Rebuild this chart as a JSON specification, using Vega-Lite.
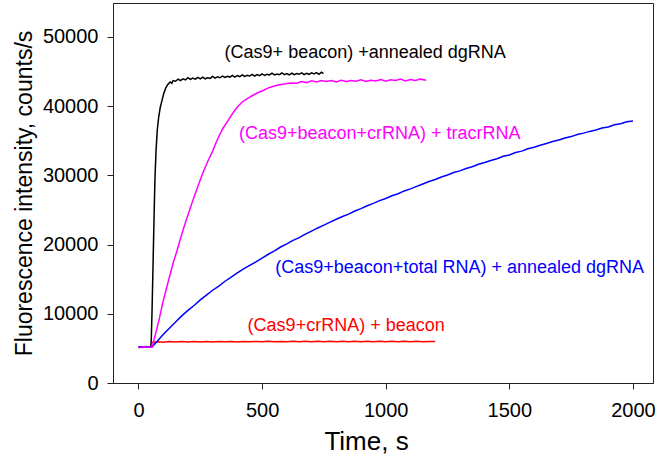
{
  "$schema": "https://vega.github.io/schema/vega-lite/v6.json",
  "width": 540,
  "height": 380,
  "autosize": {"type": "none"},
  "padding": {"left": 113, "top": 3, "right": 8, "bottom": 82},
  "background": "white",
  "config": {
    "view": {"stroke": "#222", "strokeWidth": 1},
    "font": "Liberation Sans",
    "axis": {
      "grid": false,
      "domainColor": "#222",
      "tickColor": "#222",
      "labelColor": "#000",
      "titleColor": "#000",
      "labelFont": "Liberation Sans",
      "titleFont": "Liberation Sans",
      "labelFontSize": 20,
      "titleFontSize": 23,
      "titleFontWeight": "normal",
      "tickSize": 6,
      "format": "d"
    }
  },
  "datasets": {
    "black": [
      {"t":0,"v":5150},{"t":10,"v":5250},{"t":20,"v":5180},{"t":30,"v":5260},{"t":40,"v":5200},{"t":50,"v":5220},
      {"t":52,"v":6500},{"t":55,"v":10500},{"t":58,"v":15500},{"t":61,"v":20500},{"t":64,"v":25500},{"t":67,"v":29800},
      {"t":71,"v":33500},{"t":76,"v":36500},{"t":82,"v":38500},{"t":88,"v":39800},{"t":95,"v":40800},{"t":102,"v":41800},
      {"t":110,"v":42600},{"t":118,"v":43100},{"t":128,"v":43500},{"t":135,"v":43300},{"t":140,"v":43700},{"t":150,"v":43600},
      {"t":160,"v":43900},{"t":170,"v":43700},{"t":180,"v":43950},{"t":190,"v":43800},{"t":200,"v":44100},{"t":210,"v":43850},
      {"t":220,"v":44050},{"t":230,"v":43900},{"t":240,"v":44150},{"t":250,"v":43950},{"t":260,"v":44200},{"t":270,"v":43950},
      {"t":280,"v":44100},{"t":290,"v":44000},{"t":300,"v":44300},{"t":310,"v":44050},{"t":320,"v":44250},{"t":330,"v":44100},
      {"t":340,"v":44350},{"t":350,"v":44150},{"t":360,"v":44300},{"t":370,"v":44200},{"t":380,"v":44450},{"t":390,"v":44200},
      {"t":400,"v":44400},{"t":410,"v":44250},{"t":420,"v":44500},{"t":430,"v":44300},{"t":440,"v":44450},{"t":450,"v":44350},
      {"t":460,"v":44600},{"t":470,"v":44350},{"t":480,"v":44550},{"t":490,"v":44400},{"t":500,"v":44650},{"t":510,"v":44450},
      {"t":520,"v":44600},{"t":530,"v":44500},{"t":540,"v":44750},{"t":550,"v":44500},{"t":560,"v":44650},{"t":570,"v":44550},
      {"t":580,"v":44800},{"t":590,"v":44550},{"t":600,"v":44700},{"t":610,"v":44500},{"t":620,"v":44750},{"t":630,"v":44550},
      {"t":640,"v":44700},{"t":650,"v":44600},{"t":660,"v":44800},{"t":670,"v":44550},{"t":680,"v":44750},{"t":690,"v":44600},
      {"t":700,"v":44800},{"t":710,"v":44650},{"t":720,"v":44850},{"t":730,"v":44600},{"t":740,"v":44900},{"t":748,"v":44700}
    ],
    "magenta": [
      {"t":0,"v":5100},{"t":20,"v":5250},{"t":40,"v":5150},{"t":55,"v":5200},{"t":70,"v":7200},{"t":85,"v":9400},
      {"t":101,"v":12000},{"t":120,"v":14600},{"t":140,"v":17300},{"t":155,"v":19000},{"t":170,"v":20900},{"t":190,"v":23200},
      {"t":209,"v":25200},{"t":222,"v":26600},{"t":240,"v":28400},{"t":260,"v":30300},{"t":280,"v":32000},{"t":300,"v":33500},
      {"t":317,"v":35000},{"t":340,"v":36700},{"t":360,"v":37800},{"t":380,"v":38900},{"t":398,"v":39800},{"t":420,"v":40600},
      {"t":440,"v":41100},{"t":460,"v":41500},{"t":480,"v":41900},{"t":506,"v":42300},{"t":530,"v":42700},{"t":550,"v":42900},
      {"t":570,"v":43100},{"t":590,"v":43200},{"t":614,"v":43350},{"t":640,"v":43300},{"t":660,"v":43550},{"t":680,"v":43400},
      {"t":700,"v":43650},{"t":720,"v":43500},{"t":740,"v":43700},{"t":760,"v":43550},{"t":780,"v":43700},{"t":800,"v":43500},
      {"t":820,"v":43750},{"t":840,"v":43550},{"t":860,"v":43700},{"t":880,"v":43600},{"t":900,"v":43800},{"t":920,"v":43550},
      {"t":940,"v":43750},{"t":960,"v":43650},{"t":980,"v":43850},{"t":1000,"v":43600},{"t":1020,"v":43800},{"t":1040,"v":43700},
      {"t":1060,"v":43900},{"t":1080,"v":43650},{"t":1100,"v":43850},{"t":1120,"v":43700},{"t":1140,"v":43900},{"t":1164,"v":43750}
    ],
    "blue": [
      {"t":0,"v":5250},{"t":20,"v":5150},{"t":40,"v":5250},{"t":55,"v":5200},{"t":75,"v":6000},{"t":100,"v":7000},
      {"t":125,"v":7900},{"t":150,"v":8800},{"t":175,"v":9700},{"t":200,"v":10500},{"t":225,"v":11200},{"t":250,"v":12000},
      {"t":275,"v":12700},{"t":300,"v":13400},{"t":325,"v":14000},{"t":350,"v":14700},{"t":375,"v":15300},{"t":400,"v":15900},
      {"t":425,"v":16500},{"t":450,"v":17000},{"t":475,"v":17500},{"t":500,"v":18050},{"t":525,"v":18600},{"t":550,"v":19100},
      {"t":575,"v":19650},{"t":600,"v":20100},{"t":625,"v":20600},{"t":650,"v":21000},{"t":675,"v":21500},{"t":700,"v":21950},
      {"t":725,"v":22400},{"t":750,"v":22800},{"t":775,"v":23250},{"t":800,"v":23650},{"t":825,"v":24050},{"t":850,"v":24400},
      {"t":875,"v":24850},{"t":900,"v":25200},{"t":925,"v":25600},{"t":950,"v":25950},{"t":975,"v":26350},{"t":1000,"v":26650},
      {"t":1025,"v":27050},{"t":1050,"v":27350},{"t":1075,"v":27750},{"t":1100,"v":28050},{"t":1125,"v":28400},{"t":1150,"v":28750},
      {"t":1175,"v":29100},{"t":1200,"v":29400},{"t":1225,"v":29750},{"t":1250,"v":30050},{"t":1275,"v":30400},{"t":1300,"v":30650},
      {"t":1325,"v":31000},{"t":1350,"v":31250},{"t":1375,"v":31600},{"t":1400,"v":31850},{"t":1425,"v":32150},{"t":1450,"v":32400},
      {"t":1475,"v":32750},{"t":1500,"v":32950},{"t":1525,"v":33300},{"t":1550,"v":33500},{"t":1575,"v":33850},{"t":1600,"v":34050},
      {"t":1625,"v":34350},{"t":1650,"v":34600},{"t":1675,"v":34900},{"t":1700,"v":35100},{"t":1725,"v":35400},{"t":1750,"v":35600},
      {"t":1775,"v":35900},{"t":1800,"v":36100},{"t":1825,"v":36350},{"t":1850,"v":36550},{"t":1875,"v":36850},{"t":1900,"v":37000},
      {"t":1925,"v":37300},{"t":1950,"v":37450},{"t":1975,"v":37750},{"t":2000,"v":37850}
    ],
    "red": [
      {"t":55,"v":5850},{"t":80,"v":5950},{"t":100,"v":5900},{"t":125,"v":5980},{"t":150,"v":5920},{"t":175,"v":5990},
      {"t":200,"v":5930},{"t":225,"v":6000},{"t":250,"v":5940},{"t":275,"v":5990},{"t":300,"v":5930},{"t":325,"v":6010},
      {"t":350,"v":5950},{"t":375,"v":6000},{"t":400,"v":5940},{"t":425,"v":6010},{"t":450,"v":5950},{"t":475,"v":6000},
      {"t":500,"v":5950},{"t":525,"v":6020},{"t":550,"v":5960},{"t":575,"v":6010},{"t":600,"v":5950},{"t":625,"v":6020},
      {"t":650,"v":5960},{"t":675,"v":6020},{"t":700,"v":5970},{"t":725,"v":6030},{"t":750,"v":5960},{"t":775,"v":6020},
      {"t":800,"v":5970},{"t":825,"v":6030},{"t":850,"v":5970},{"t":875,"v":6020},{"t":900,"v":5960},{"t":925,"v":6030},
      {"t":950,"v":5970},{"t":975,"v":6020},{"t":1000,"v":5960},{"t":1025,"v":6030},{"t":1050,"v":5970},{"t":1075,"v":6020},
      {"t":1100,"v":5960},{"t":1125,"v":6020},{"t":1150,"v":5970},{"t":1175,"v":6010},{"t":1200,"v":5980}
    ],
    "labels": [
      {"label":"(Cas9+ beacon) +annealed dgRNA","x":917,"y":47690,"c":"black"},
      {"label":"(Cas9+beacon+crRNA) + tracrRNA","x":976,"y":35980,"c":"magenta"},
      {"label":"(Cas9+beacon+total RNA) + annealed dgRNA","x":1299,"y":16620,"c":"blue"},
      {"label":"(Cas9+crRNA) + beacon","x":840,"y":8240,"c":"red"}
    ]
  },
  "encoding": {
    "x": {"field": "t", "type": "quantitative",
      "scale": {"domain": [-103, 2081], "nice": false, "zero": false},
      "axis": {"values": [0, 500, 1000, 1500, 2000], "title": "Time, s", "labelPadding": 11, "titlePadding": 8, "titleX": 253, "titleFontSize": 26}},
    "y": {"field": "v", "type": "quantitative",
      "scale": {"domain": [0, 54900], "nice": false},
      "axis": {"values": [0, 10000, 20000, 30000, 40000, 50000], "title": "Fluorescence intensity, counts/s", "labelPadding": 9, "titlePadding": 6}}
  },
  "layer": [
    {"data": {"name": "red"}, "mark": {"type": "line", "color": "#ff0000", "strokeWidth": 1.5}},
    {"data": {"name": "black"}, "mark": {"type": "line", "color": "#000000", "strokeWidth": 1.5}},
    {"data": {"name": "blue"}, "mark": {"type": "line", "color": "#0000ff", "strokeWidth": 1.5}},
    {"data": {"name": "magenta"}, "mark": {"type": "line", "color": "#ff00ff", "strokeWidth": 1.5}},
    {"data": {"name": "labels"}, "mark": {"type": "text", "fontSize": 18, "font": "Liberation Sans", "align": "center", "baseline": "middle"},
      "encoding": {
        "x": {"field": "x", "type": "quantitative"},
        "y": {"field": "y", "type": "quantitative"},
        "text": {"field": "label"},
        "color": {"field": "c", "type": "nominal", "scale": {"domain": ["black", "magenta", "blue", "red"], "range": ["#000000", "#ff00ff", "#0000ff", "#ff0000"]}, "legend": null}
      }}
  ]
}
